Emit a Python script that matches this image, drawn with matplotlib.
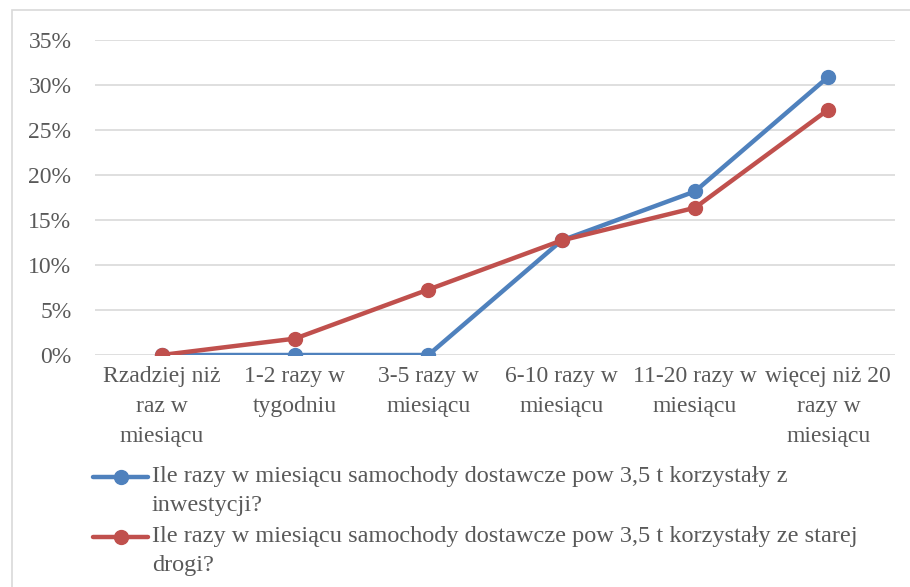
import matplotlib
matplotlib.use('Agg')
import matplotlib.pyplot as plt
from matplotlib.lines import Line2D
from matplotlib.patches import Rectangle
from matplotlib.ticker import FuncFormatter

plt.rcParams['font.family'] = ['Liberation Serif', 'DejaVu Serif']

categories = ['Rzadziej niż\nraz w\nmiesiącu', '1-2 razy w\ntygodniu', '3-5 razy w\nmiesiącu',
              '6-10 razy w\nmiesiącu', '11-20 razy w\nmiesiącu', 'więcej niż 20\nrazy w\nmiesiącu']
inwestycja = [0.0, 0.0, 0.0, 0.1273, 0.1818, 0.3091]
stara_droga = [0.0, 0.0182, 0.0727, 0.1273, 0.1636, 0.2727]
labels = ['Ile razy w miesiącu samochody dostawcze pow 3,5 t korzystały z\ninwestycji?',
          'Ile razy w miesiącu samochody dostawcze pow 3,5 t korzystały ze starej\ndrogi?']
colors = ['#4F81BD', '#C0504D']
yticks = [0, 0.05, 0.10, 0.15, 0.20, 0.25, 0.30, 0.35]

W, H = 910, 587
fig = plt.figure(figsize=(W / 100, H / 100), dpi=100)
ax = fig.add_axes([95 / W, 1 - 355 / H, 800 / W, 315 / H])

x = range(len(categories))
for vals, c in zip([inwestycja, stara_droga], colors):
    ax.plot(x, vals, color=c, lw=3.2, marker='o', ms=10, zorder=3)

ax.set_xlim(-0.5, len(categories) - 0.5)
ax.set_ylim(0, 0.35)
ax.set_yticks(yticks)
ax.yaxis.set_major_formatter(FuncFormatter(lambda v, p: f'{v * 100:.0f}%'))
ax.set_xticks(list(x))
ax.set_xticklabels(categories, linespacing=1.55)
ax.tick_params(axis='both', length=0, labelsize=17, labelcolor='#595959')
ax.tick_params(axis='y', pad=17)
ax.tick_params(axis='x', pad=8)
ax.grid(axis='y', color='#D9D9D9', lw=1.2)
ax.set_axisbelow(True)
for s in ax.spines.values():
    s.set_visible(False)

# outer chart border
fig.add_artist(Rectangle((12 / W, -0.1), 1.1, 1 - 10 / H + 0.1, transform=fig.transFigure,
                         fill=False, edgecolor='#D9D9D9', lw=1.2))

# legend
for i, (lab, c) in enumerate(zip(labels, colors)):
    yy = 1 - (477 + 60 * i) / H
    fig.add_artist(Line2D([93 / W, 148 / W], [yy, yy], transform=fig.transFigure,
                          color=c, lw=3.2, solid_capstyle='round'))
    fig.add_artist(Line2D([121 / W], [yy], transform=fig.transFigure,
                          color=c, marker='o', ms=10, lw=0))
    fig.text(152 / W, yy + 11 / H, lab, ha='left', va='top', fontsize=17.5, color='#595959',
             linespacing=1.5, transform=fig.transFigure)

fig.savefig('out.png', dpi=100)
